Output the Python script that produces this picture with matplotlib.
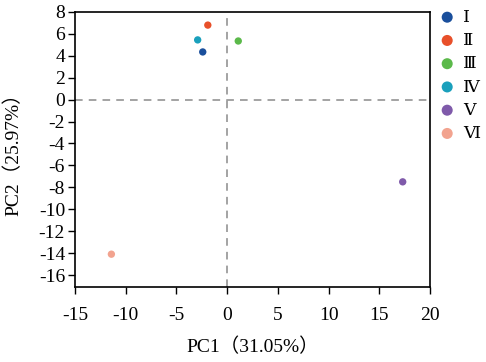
import matplotlib
matplotlib.use("Agg")
import matplotlib.pyplot as plt

groups = ["Ⅰ", "Ⅱ", "Ⅲ", "Ⅳ", "Ⅴ", "Ⅵ"]
pc1 = [-2.4, -1.9, 1.1, -2.9, 17.3, -11.4]
pc2 = [4.35, 6.8, 5.35, 5.45, -7.5, -14.1]
colors = ["#1a4f9c", "#e8502a", "#5bb94a", "#1aa0bc", "#7f5aaa", "#f2a38f"]

plt.rcParams['font.family'] = ['Liberation Serif', 'DejaVu Serif', 'Noto Sans CJK SC']
plt.rcParams['axes.unicode_minus'] = False

fig = plt.figure(figsize=(4.86, 3.62), dpi=100)
ax = fig.add_axes([0.154, 0.207, 0.731, 0.76])

ax.axhline(0, color="#8a8a8a", lw=1.1, ls=(0, (5, 4)), zorder=1)
ax.axvline(0, color="#8a8a8a", lw=1.1, ls=(0, (5, 4)), zorder=1)

for g, x, y, c in zip(groups, pc1, pc2, colors):
    ax.scatter(x, y, s=28, color=c, label=g, zorder=3, edgecolors="none")

ax.set_xlim(-15, 20)
ax.set_ylim(-17.1, 8)
ax.set_xticks(range(-15, 21, 5))
ax.set_yticks(range(-16, 9, 2))
ax.tick_params(labelsize=14, length=5, width=1, direction="out")
ax.tick_params(axis="x", pad=9)
ax.tick_params(axis="y", pad=2)
for s in ax.spines.values():
    s.set_linewidth(1.2)

ax.set_xlabel("PC1（31.05%）", fontsize=14, labelpad=10)
ax.set_ylabel("PC2（25.97%）", fontsize=14, labelpad=12)

leg = fig.legend(loc="upper left", bbox_to_anchor=(0.888, 0.995), frameon=False,
                 prop={"family": ["DejaVu Serif"], "size": 12.5}, markerscale=1.5,
                 handletextpad=0.4, labelspacing=0.36, handlelength=1.0,
                 borderaxespad=0)

fig.savefig("out.png", dpi=100)
